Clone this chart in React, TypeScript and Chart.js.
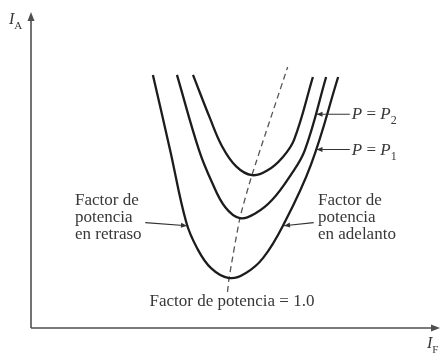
import { useEffect, useRef } from "react";
import { Chart, registerables } from "chart.js";

Chart.register(...registerables);

// V curves of a synchronous motor: armature current I_A versus field current I_F
const innerIF = [4.04, 4.46, 4.76, 5.11, 5.51, 5.91, 6.26, 6.56, 7.03];
const innerIA = [8.41, 6.98, 6.05, 5.38, 5.08, 5.25, 5.65, 6.25, 8.34];

const middleIF = [3.64, 4.19, 4.51, 4.84, 5.21, 5.61, 6.01, 6.46, 6.83, 7.36];
const middleIA = [8.41, 5.91, 4.85, 4.02, 3.65, 3.82, 4.25, 5.05, 5.91, 8.34];

const outerIF = [3.04, 3.47, 3.87, 4.14, 4.49, 4.94, 5.36, 5.79, 6.28, 6.98, 7.66];
const outerIA = [8.41, 5.91, 3.52, 2.66, 1.99, 1.66, 1.83, 2.33, 3.39, 5.42, 8.34];

// Locus of unity power factor through the minimum of each curve
const unityIF = [4.9, 4.94, 5.21, 5.51, 6.4];
const unityIA = [1.2, 1.66, 3.65, 5.08, 8.67];

const X_MAX = 10.2;
const Y_MAX = 10.5;

const SERIF = '"Liberation Serif", "DejaVu Serif", serif';
const INK = "#1c1c1c";
const TEXT = "#383838";
const FONT_SIZE = 17;

const toPoints = (xs: number[], ys: number[]) => xs.map((x, i) => ({ x, y: ys[i] }));

function arrowHead(ctx: CanvasRenderingContext2D, tx: number, ty: number, ang: number, len: number, half: number) {
  ctx.beginPath();
  ctx.moveTo(tx, ty);
  ctx.lineTo(tx - len * Math.cos(ang) + half * Math.sin(ang), ty - len * Math.sin(ang) - half * Math.cos(ang));
  ctx.lineTo(tx - len * Math.cos(ang) - half * Math.sin(ang), ty - len * Math.sin(ang) + half * Math.cos(ang));
  ctx.closePath();
  ctx.fill();
}

// Text like "P = P₂": italic letters, upright operator, small subscripts
function drawSymbol(ctx: CanvasRenderingContext2D, parts: [string, "i" | "r" | "s"][], x: number, y: number, size: number) {
  let cx = x;
  for (const [t, kind] of parts) {
    if (kind === "s") {
      ctx.font = `${Math.round(size * 0.68)}px ${SERIF}`;
      ctx.fillText(t, cx, y + size * 0.3);
    } else {
      ctx.font = `${kind === "i" ? "italic " : ""}${size}px ${SERIF}`;
      ctx.fillText(t, cx, y);
    }
    cx += ctx.measureText(t).width;
  }
}

const overlay = {
  id: "overlay",
  afterDraw(chart: Chart) {
    const { ctx, chartArea: a } = chart;
    const sx = chart.scales.x;
    const sy = chart.scales.y;
    const px = (v: number) => sx.getPixelForValue(v);
    const py = (v: number) => sy.getPixelForValue(v);
    ctx.save();

    // axes with arrow heads
    const ox = px(0);
    const oy = py(0);
    ctx.strokeStyle = "#505050";
    ctx.fillStyle = "#505050";
    ctx.lineWidth = 1.6;
    ctx.beginPath();
    ctx.moveTo(ox, oy);
    ctx.lineTo(ox, a.top + 6);
    ctx.moveTo(ox, oy);
    ctx.lineTo(a.right - 6, oy);
    ctx.stroke();
    arrowHead(ctx, ox, a.top, -Math.PI / 2, 9, 3.5);
    arrowHead(ctx, a.right, oy, 0, 9, 3.5);

    ctx.fillStyle = TEXT;
    ctx.textBaseline = "alphabetic";
    ctx.textAlign = "left";
    drawSymbol(ctx, [["I", "i"], ["A", "s"]], ox - 22, a.top + 12, 16);
    drawSymbol(ctx, [["I", "i"], ["F", "s"]], a.right - 13, oy + 20, 16);

    // pointers to curves
    ctx.strokeStyle = "#333";
    ctx.fillStyle = "#333";
    ctx.lineWidth = 1.1;
    const pointer = (fromX: number, fromY: number, toX: number, toY: number) => {
      ctx.beginPath();
      ctx.moveTo(fromX, fromY);
      ctx.lineTo(toX, toY);
      ctx.stroke();
      arrowHead(ctx, toX, toY, Math.atan2(toY - fromY, toX - fromX), 6, 2.5);
    };
    pointer(px(7.95), py(7.1), px(7.12), py(7.1));
    pointer(px(7.95), py(5.93), px(7.12), py(5.93));
    pointer(px(2.85), py(3.5), px(3.89), py(3.4));
    pointer(px(7.05), py(3.5), px(6.31), py(3.4));

    ctx.fillStyle = TEXT;
    drawSymbol(ctx, [["P", "i"], [" = ", "r"], ["P", "i"], ["2", "s"]], px(8.0), py(7.1) + 5, FONT_SIZE);
    drawSymbol(ctx, [["P", "i"], [" = ", "r"], ["P", "i"], ["1", "s"]], px(8.0), py(5.93) + 5, FONT_SIZE);

    ctx.font = `${FONT_SIZE}px ${SERIF}`;
    const lines = (xs: number, ys: number, txt: string[]) => {
      txt.forEach((t, i) => ctx.fillText(t, xs, ys + i * 17));
    };
    lines(75, 205, ["Factor de", "potencia", "en retraso"]);
    lines(318, 205, ["Factor de", "potencia", "en adelanto"]);
    ctx.textAlign = "center";
    ctx.fillText("Factor de potencia = 1.0", 232, 306);

    ctx.restore();
  },
};

export default function App() {
  const ref = useRef<HTMLCanvasElement | null>(null);

  useEffect(() => {
    if (!ref.current) return;
    const curve = (xs: number[], ys: number[]) => ({
      data: toPoints(xs, ys),
      borderColor: INK,
      borderWidth: 2.3,
      pointRadius: 0,
      fill: false,
      showLine: true,
      tension: 0.4,
    });
    const chart = new Chart(ref.current, {
      type: "scatter",
      data: {
        datasets: [
          curve(innerIF, innerIA),
          curve(middleIF, middleIA),
          curve(outerIF, outerIA),
          {
            data: toPoints(unityIF, unityIA),
            borderColor: "#555",
            borderWidth: 1.3,
            borderDash: [6, 4],
            pointRadius: 0,
            fill: false,
            showLine: true,
            tension: 0.2,
          },
        ],
      },
      options: {
        animation: false,
        responsive: false,
        devicePixelRatio: 1,
        layout: { padding: { left: 31, top: 12, right: 1, bottom: 26 } },
        plugins: { legend: { display: false }, tooltip: { enabled: false } },
        scales: {
          x: { type: "linear", min: 0, max: X_MAX, display: false },
          y: { type: "linear", min: 0, max: Y_MAX, display: false },
        },
      },
      plugins: [overlay],
    });
    return () => chart.destroy();
  }, []);

  return (
    <div style={{ position: "fixed", left: 0, top: 0, width: 441, height: 354, background: "#fff" }}>
      <canvas ref={ref} width={441} height={354} />
    </div>
  );
}
